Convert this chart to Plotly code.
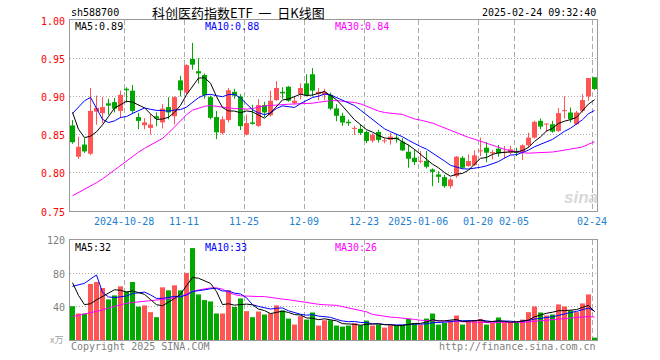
import numpy as np
import pandas as pd
import plotly.graph_objects as go

# ---------------- data ----------------
dates = [
    "2024-10-15","2024-10-16","2024-10-17","2024-10-18","2024-10-21","2024-10-22","2024-10-23","2024-10-24","2024-10-25",
    "2024-10-28","2024-10-29","2024-10-30","2024-10-31","2024-11-01","2024-11-04","2024-11-05","2024-11-06","2024-11-07",
    "2024-11-08","2024-11-11","2024-11-12","2024-11-13","2024-11-14","2024-11-15","2024-11-18","2024-11-19","2024-11-20",
    "2024-11-21","2024-11-22","2024-11-25","2024-11-26","2024-11-27","2024-11-28","2024-11-29","2024-12-02","2024-12-03",
    "2024-12-04","2024-12-05","2024-12-06","2024-12-09","2024-12-10","2024-12-11","2024-12-12","2024-12-13","2024-12-16",
    "2024-12-17","2024-12-18","2024-12-19","2024-12-20","2024-12-23","2024-12-24","2024-12-25","2024-12-26","2024-12-27",
    "2024-12-30","2024-12-31","2025-01-02","2025-01-03","2025-01-06","2025-01-07","2025-01-08","2025-01-09","2025-01-10",
    "2025-01-13","2025-01-14","2025-01-15","2025-01-16","2025-01-17","2025-01-20","2025-01-21","2025-01-22","2025-01-23",
    "2025-01-24","2025-01-27","2025-02-05","2025-02-06","2025-02-07","2025-02-10","2025-02-11","2025-02-12","2025-02-13",
    "2025-02-14","2025-02-17","2025-02-18","2025-02-19","2025-02-20","2025-02-21","2025-02-24",
]

open_ = [0.862,0.821,0.837,0.825,0.880,0.878,0.891,0.8925,0.881,0.910,
         0.9075,0.873,0.8623,0.8588,0.874,0.866,0.886,0.874,0.921,0.905,
         0.949,0.933,0.928,0.899,0.873,0.852,0.869,0.906,0.900,0.850,
         0.866,0.8614,0.8886,0.8754,0.8952,0.906,0.9127,0.8912,0.903,0.917,
         0.929,0.903,0.902,0.902,0.8842,0.8746,0.8667,0.8575,0.8575,0.8535,
         0.8421,0.8535,0.8412,0.843,0.8461,0.8408,0.8276,0.8197,0.8145,0.8154,
         0.8044,0.7978,0.7943,0.7825,0.7956,0.8197,0.8088,0.8101,0.8281,0.8329,
         0.8254,0.8316,0.8263,0.8263,0.8268,0.8272,0.836,0.8461,0.868,0.8632,
         0.8636,0.8548,0.8807,0.8789,0.8636,0.8811,0.900,0.925]
high = [0.869,0.847,0.845,0.911,0.901,0.899,0.897,0.898,0.9075,0.912,
        0.915,0.8785,0.8715,0.877,0.879,0.890,0.899,0.900,0.927,0.942,
        0.970,0.950,0.930,0.901,0.881,0.874,0.911,0.910,0.903,0.876,
        0.889,0.8965,0.893,0.9075,0.920,0.912,0.9135,0.900,0.917,0.929,
        0.937,0.911,0.910,0.905,0.8899,0.8785,0.8697,0.8614,0.8632,0.855,
        0.8518,0.8566,0.8452,0.8526,0.8504,0.8452,0.8368,0.8307,0.8285,0.8285,
        0.8057,0.8022,0.7974,0.7934,0.8219,0.8219,0.8241,0.8294,0.8461,0.8404,
        0.8298,0.8364,0.8351,0.8355,0.8329,0.8373,0.8526,0.868,0.8711,0.8649,
        0.868,0.8846,0.900,0.8855,0.8811,0.9031,0.9241,0.925]
low = [0.838,0.818,0.826,0.823,0.863,0.865,0.876,0.879,0.8715,0.892,
       0.877,0.857,0.857,0.850,0.861,0.858,0.870,0.863,0.900,0.903,
       0.935,0.917,0.897,0.870,0.844,0.850,0.866,0.897,0.856,0.849,
       0.863,0.860,0.873,0.8737,0.894,0.897,0.893,0.889,0.896,0.900,
       0.900,0.895,0.895,0.882,0.8675,0.8614,0.8614,0.8496,0.8496,0.8386,
       0.8395,0.8395,0.8386,0.8368,0.8395,0.8285,0.8066,0.8101,0.8123,0.8057,
       0.7825,0.7868,0.7803,0.7794,0.7934,0.8053,0.8079,0.8088,0.8219,0.814,
       0.8175,0.8211,0.8184,0.824,0.8219,0.8167,0.8329,0.8447,0.857,0.8535,
       0.8526,0.8535,0.8711,0.8658,0.8627,0.8789,0.8943,0.9083]
close = [0.840,0.834,0.828,0.881,0.885,0.886,0.888,0.884,0.902,0.908,
         0.881,0.868,0.866,0.8632,0.871,0.884,0.879,0.899,0.908,0.941,
         0.9415,0.930,0.902,0.872,0.853,0.870,0.908,0.901,0.861,0.865,
         0.864,0.8886,0.879,0.8943,0.911,0.904,0.8943,0.8943,0.911,0.9018,
         0.9075,0.906,0.906,0.884,0.8746,0.8658,0.8649,0.8579,0.8522,0.8417,
         0.8496,0.843,0.8417,0.8474,0.8439,0.8294,0.8184,0.814,0.8149,0.8079,
         0.8013,0.7947,0.7825,0.7912,0.8211,0.8066,0.8154,0.8228,0.8289,0.8263,
         0.8272,0.8254,0.8276,0.8307,0.8259,0.836,0.8461,0.8667,0.8605,0.864,
         0.8539,0.8781,0.8816,0.8702,0.8789,0.8952,0.9241,0.9096]
volume = [40.6,31.8,31.8,67.2,69.6,62.4,48.7,53.5,64.4,58.4,
          69.6,40.0,41.5,33.4,27.4,63.2,59.6,65.6,59.6,80.5,
          110.3,54.7,47.9,46.3,31.8,31.8,59.6,39.6,49.9,34.6,
          27.4,34.2,30.6,31.8,41.5,35.4,25.7,18.5,28.6,24.5,
          33.0,17.3,23.7,23.7,17.3,16.1,17.3,20.1,17.7,23.3,
          17.3,18.5,14.9,17.7,17.7,17.7,25.3,20.5,18.5,25.7,
          31.8,18.5,20.5,23.3,29.4,18.5,22.5,23.3,25.3,18.5,
          20.5,27.0,20.5,20.5,20.5,24.5,33.4,40.2,33.0,29.4,
          30.6,42.7,40.2,35.4,33.5,43.9,54.7,2.8]

# moving-average values at the left edge (their windows start before the visible data)
ma5_head = [0.879, 0.857, 0.846, 0.848]
ma10_head = [0.8776, 0.8855, 0.8943, 0.8987, 0.8833, 0.870, 0.8658, 0.868, 0.8724]
ma30_head = [0.770, 0.774, 0.779, 0.783, 0.787, 0.792, 0.798, 0.804, 0.809, 0.815,
             0.821, 0.827, 0.832, 0.836, 0.840, 0.845, 0.852, 0.860, 0.868, 0.876,
             0.882, 0.885, 0.887, 0.888, 0.887, 0.886, 0.885, 0.884, 0.884]
vol_ma5_head = [68.8, 53.5, 42.4, 43.5]
vol_ma10_head = [64.4, 66.0, 68.0, 73.2, 78.0, 57.1, 51.7, 50.9, 51.7]
vol_ma30_head = [28, 29.5, 31, 32.5, 34, 36, 38.5, 40.5, 42, 44,
                 45, 45.7, 46.3, 46.8, 47.3, 48, 49.5, 51, 52.5, 55,
                 58.5, 60, 61.5, 62.5, 62.5, 61, 57, 54.5, 53]

tick_dates = ["2024-10-28","2024-11-11","2024-11-25","2024-12-09","2024-12-23",
              "2025-01-06","2025-01-20","2025-02-05","2025-02-24"]
tick_labels = ["2024-10-28","11-11","11-25","12-09","12-23","2025-01-06","01-20","02-05","02-24"]
price_ticks = [1.00, 0.95, 0.90, 0.85, 0.80, 0.75]
vol_ticks = [120, 80, 40]

# ---------------- helpers ----------------
W, H = 660, 360
X0, X1 = 70, 597          # plot area left/right (px)
PY0, PY1 = 20, 211        # price panel top/bottom
VY0, VY1 = 240, 340       # volume panel top/bottom
RED = "#FF5555"
GREEN = "#00A800"
MONO = "DejaVu Sans Mono"

n = len(dates)
idx = np.arange(n)
o = np.array(open_); c = np.array(close); hi = np.array(high); lo = np.array(low)
v = np.array(volume)
up = c >= o


def with_head(series, window, head):
    s = pd.Series(series).rolling(window).mean().to_numpy()
    s[:len(head)] = head
    return s

ma5 = with_head(c, 5, ma5_head)
ma10 = with_head(c, 10, ma10_head)
ma30 = with_head(c, 30, ma30_head)
vma5 = with_head(v, 5, vol_ma5_head)
vma10 = with_head(v, 10, vol_ma10_head)
vma30 = with_head(v, 30, vol_ma30_head)

fig = go.Figure()
BW = 5 / 6

for mask, col in ((up, RED), (~up, GREEN)):
    base = np.minimum(o, c)[mask]
    hgt = np.maximum(np.abs(c - o)[mask], 0.0013)
    wx, wy = [], []
    for i in idx[mask]:
        wx += [i, i, None]
        wy += [lo[i], hi[i], None]
    fig.add_trace(go.Scatter(x=wx, y=wy, mode="lines", line=dict(color=col, width=1),
                             hoverinfo="skip", xaxis="x", yaxis="y"))
    fig.add_trace(go.Bar(x=idx[mask], y=hgt, base=base, width=BW, marker=dict(color=col, line=dict(width=0)),
                         xaxis="x", yaxis="y"))
    fig.add_trace(go.Bar(x=idx[mask], y=v[mask], width=BW, marker=dict(color=col, line=dict(width=0)),
                         xaxis="x2", yaxis="y2"))

for s, col, ax in ((ma30, "#FF00FF", "y"), (ma10, "#0000FF", "y"), (ma5, "#000000", "y"),
                   (vma30, "#FF00FF", "y2"), (vma10, "#0000FF", "y2"), (vma5, "#000000", "y2")):
    fig.add_trace(go.Scatter(x=idx, y=s, mode="lines", line=dict(color=col, width=1),
                             xaxis="x" if ax == "y" else "x2", yaxis=ax, hoverinfo="skip"))

tick_pos = [dates.index(d) - 0.367 for d in tick_dates]
xr = [(X0 - 72.5) / 6, (X1 - 72.5) / 6]

common_x = dict(range=xr, showline=True, mirror=True, linecolor="#999999", linewidth=1,
                tickvals=tick_pos, showticklabels=False, ticks="", showgrid=True,
                gridcolor="#AAAAAA", gridwidth=1, griddash="5px,3px", zeroline=False, fixedrange=True)
common_y = dict(showline=True, mirror=True, linecolor="#999999", linewidth=1, showticklabels=False,
                ticks="", showgrid=True, gridcolor="#AAAAAA", gridwidth=1, griddash="1px,2px",
                zeroline=False, fixedrange=True)

fig.update_layout(
    width=W, height=H, margin=dict(l=0, r=0, t=0, b=0),
    paper_bgcolor="white", plot_bgcolor="white", showlegend=False, barmode="overlay",
    xaxis=dict(domain=[X0 / W, X1 / W], anchor="y", **common_x),
    xaxis2=dict(domain=[X0 / W, X1 / W], anchor="y2", **common_x),
    yaxis=dict(domain=[1 - PY1 / H, 1 - PY0 / H], anchor="x", range=[0.75, 1.00],
               tickvals=[0.80, 0.85, 0.90, 0.95], **common_y),
    yaxis2=dict(domain=[1 - VY1 / H, 1 - VY0 / H], anchor="x2", range=[0, 120],
                tickvals=[40, 80], **common_y),
)

ann = []


def txt(x, y, s, color, size=10, anchor="left", family=MONO, **kw):
    ann.append(dict(x=x / W, y=1 - y / H, xref="paper", yref="paper", text=s, showarrow=False,
                    xanchor=anchor, yanchor="middle", font=dict(family=family, size=size, color=color),
                    borderpad=0, **kw))

# header
txt(70, 13, "sh588700", "#000000")
txt(238, 13, "科创医药指数ETF&nbsp;&nbsp;一&nbsp;&nbsp;日K线图", "#000000", size=13, anchor="center",
    family="Noto Sans CJK SC")
txt(597, 13, "2025-02-24 09:32:40", "#000000", anchor="right")

# MA labels
txt(74, 27, "MA5:0.89", "#000000")
txt(204, 27, "MA10:0.88", "#0000FF")
txt(334, 27, "MA30:0.84", "#FF00FF")
txt(74, 247, "MA5:32", "#000000")
txt(204, 247, "MA10:33", "#0000FF")
txt(334, 247, "MA30:26", "#FF00FF")

# price axis labels
for p in price_ticks:
    ypx = PY0 + (1.00 - p) / 0.25 * (PY1 - PY0)
    txt(66, ypx + 1, f"{p:.2f}", "#FF0000", anchor="right")

# volume axis labels
for q in vol_ticks:
    ypx = VY1 - q / 120 * (VY1 - VY0)
    txt(66, ypx + 1, str(q), "#808080", anchor="right")
txt(64, 339, "x万", "#A0A0A0", size=9, anchor="right", family="Noto Sans CJK SC")

# date labels
for pos, lab in zip(tick_pos, tick_labels):
    xpx = 72.5 + 6 * pos
    txt(xpx, 221, lab, "#1E7FD0", anchor="center")

# footer
txt(70, 346, "Copyright 2025 SINA.COM", "#808080")
txt(597, 346, "http://finance.sina.com.cn", "#808080", anchor="right")

# watermark
txt(581, 197, "<b><i>sina</i></b>", "#D8D8D8", size=17, anchor="center", family="Liberation Sans")

fig.update_layout(annotations=ann)
fig.write_html("out.html", config={"displayModeBar": False, "staticPlot": True},
               post_script="document.body.style.margin='0';document.body.style.padding='0';")
